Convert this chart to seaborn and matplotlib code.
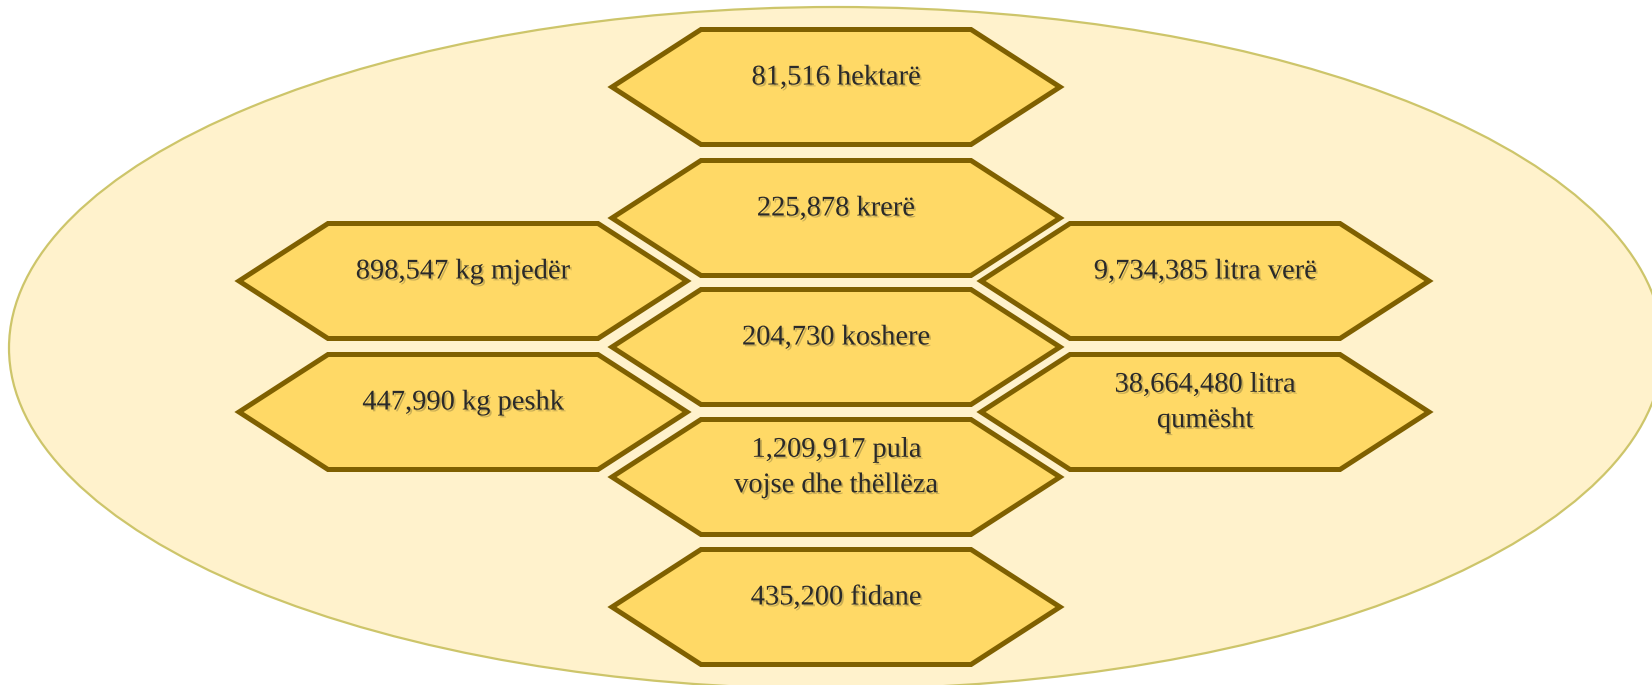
import matplotlib
matplotlib.use("Agg")
import matplotlib.pyplot as plt
import matplotlib.patheffects as pe
from matplotlib.patches import Ellipse, Polygon
import seaborn as sns

# labels of the hexagons, by column
center_labels = ["81,516 hektarë", "225,878 krerë", "204,730 koshere",
                 "1,209,917 pula\nvojse dhe thëllëza", "435,200 fidane"]
left_labels = ["898,547 kg mjedër", "447,990 kg peshk"]
right_labels = ["9,734,385 litra verë", "38,664,480 litra\nqumësht"]

# layout (pixels)
center_x = 836
side_x = [463, 1205]
center_rows = [87, 218, 347, 477, 607]
side_rows = [281, 412]

fill_col = "#FFD966"
edge_col = "#7F6000"
text_col = "#2a2a2a"

sns.set_theme(style="white")
plt.rcParams['font.family'] = ['Liberation Serif', 'DejaVu Serif']

fig = plt.figure(figsize=(16.52, 6.85), dpi=100)
ax = fig.add_axes([0, 0, 1, 1])
ax.set_xlim(0, 1652)
ax.set_ylim(685, 0)
ax.axis("off")

ax.add_patch(Ellipse((836, 348), 1654, 682, facecolor="#FFF2CC",
                     edgecolor="#CDC56A", lw=1.6, zorder=1))


def hexagon(cx, cy, label):
    hw, hh, inset = 224, 57.5, 89
    pts = [(cx - hw, cy), (cx - hw + inset, cy - hh), (cx + hw - inset, cy - hh),
           (cx + hw, cy), (cx + hw - inset, cy + hh), (cx - hw + inset, cy + hh)]
    ax.add_patch(Polygon(pts, closed=True, facecolor=fill_col, edgecolor=edge_col,
                         lw=3.6, joinstyle="miter", zorder=2))
    ax.text(cx, cy - 9, label, ha="center", va="center", fontsize=20.5,
            color=text_col, linespacing=1.55, zorder=3,
            path_effects=[pe.withSimplePatchShadow(offset=(1.3, -1.3),
                                                   shadow_rgbFace="#8a7a40",
                                                   alpha=0.45)])


for y, lab in zip(center_rows, center_labels):
    hexagon(center_x, y, lab)
for y, lab in zip(side_rows, left_labels):
    hexagon(side_x[0], y, lab)
for y, lab in zip(side_rows, right_labels):
    hexagon(side_x[1], y, lab)

fig.savefig("out.png", dpi=100, facecolor="white")
